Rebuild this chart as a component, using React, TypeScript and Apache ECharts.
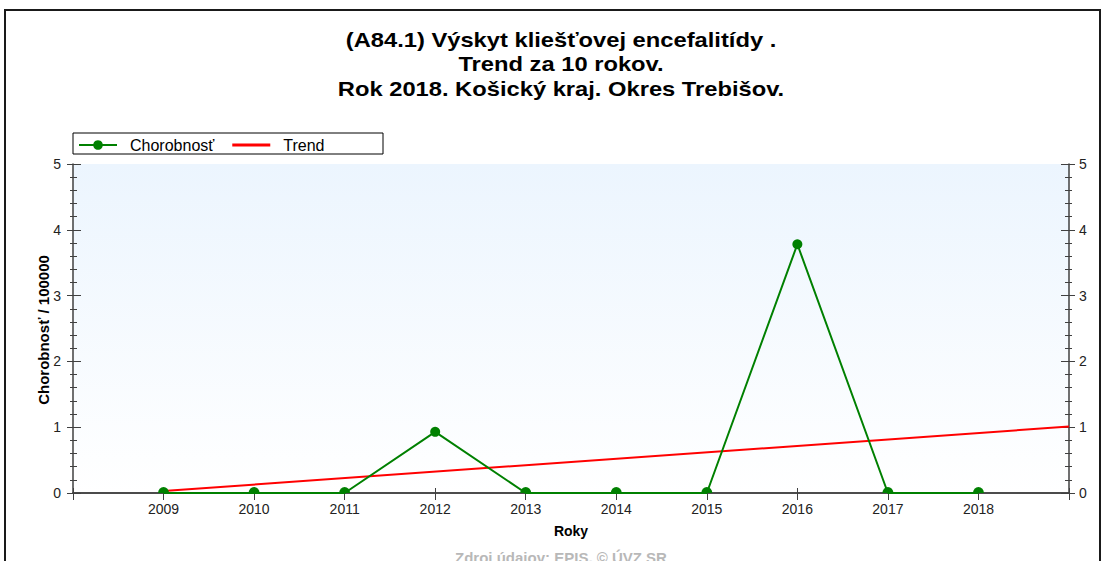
import React, { useEffect, useRef } from "react";
import * as echarts from "echarts";

const titleLines = [
  "(A84.1) Výskyt kliešťovej encefalitídy .",
  "Trend za 10 rokov.",
  "Rok 2018. Košický kraj. Okres Trebišov.",
];
const years = [2009, 2010, 2011, 2012, 2013, 2014, 2015, 2016, 2017, 2018];
const incidence = [0, 0, 0, 0.93, 0, 0, 0, 3.78, 0, 0];
const trendYears = [2009, 2019];
const trendValues = [0.03, 1.01];
const yTicks = [0, 1, 2, 3, 4, 5];
const seriesNames = ["Chorobnosť", "Trend"];
const xAxisName = "Roky";
const yAxisName = "Chorobnosť / 100000";
const sourceText = "Zdroj údajov: EPIS, © ÚVZ SR";

const FONT = "'Liberation Sans', Arial, sans-serif";
const AXIS_COLOR = "#404040";
const HALF_CIRCLE = "path://M0,10 A10,10 0 0 1 20,10 Z";
const LINE_ICON = "path://M0,0 H40 V3 H0 Z";
const TITLE_Y = [40, 64, 89];

export default function App() {
  const ref = useRef<HTMLDivElement>(null);
  useEffect(() => {
    if (!ref.current) return;
    const chart = echarts.init(ref.current, undefined, { renderer: "svg" });
    const xMin = years[0] - 1;
    const xMax = years[years.length - 1] + 1;
    const yMin = yTicks[0];
    const yMax = yTicks[yTicks.length - 1];

    const lineStyleAxis = { color: AXIS_COLOR, width: 1.5 };
    const baseX = {
      type: "value" as const,
      min: xMin,
      max: xMax,
      interval: 1,
      splitLine: { show: false },
    };
    const baseY = {
      type: "value" as const,
      min: yMin,
      max: yMax,
      interval: 1,
      splitLine: { show: false },
    };
    const labelStyle = { fontFamily: FONT, fontSize: 14, color: "#222" };

    chart.setOption({
      animation: false,
      backgroundColor: "#ffffff",
      legend: {
        data: [
          { name: seriesNames[0] },
          { name: seriesNames[1], icon: LINE_ICON },
        ],
        left: 78,
        top: 137,
        itemWidth: 38,
        itemHeight: 12,
        itemGap: 18,
        padding: 0,
        textStyle: {
          fontFamily: FONT,
          fontSize: 16,
          color: "#000",
          padding: [0, 0, 0, 8],
        },
      },
      grid: {
        left: 73,
        top: 164,
        right: 34,
        bottom: 68,
        show: true,
        borderWidth: 0,
        backgroundColor: {
          type: "linear",
          x: 0,
          y: 0,
          x2: 0,
          y2: 1,
          colorStops: [
            { offset: 0, color: "#ecf5fe" },
            { offset: 1, color: "#ffffff" },
          ],
        },
      },
      xAxis: [
        {
          ...baseX,
          position: "bottom",
          axisLine: { show: true, lineStyle: lineStyleAxis },
          axisTick: { show: true, length: 5, inside: false, lineStyle: { color: AXIS_COLOR } },
          axisLabel: {
            ...labelStyle,
            margin: 9,
            formatter: (v: number) => (years.includes(v) ? String(v) : ""),
          },
          name: xAxisName,
          nameLocation: "middle",
          nameGap: 31,
          nameTextStyle: { fontFamily: FONT, fontSize: 14, fontWeight: "bold", color: "#000" },
        },
        {
          ...baseX,
          position: "bottom",
          axisLine: { show: false },
          axisTick: { show: true, length: 5, inside: true, lineStyle: { color: AXIS_COLOR } },
          axisLabel: { show: false },
        },
        {
          ...baseX,
          position: "top",
          axisLine: { show: true, lineStyle: lineStyleAxis },
          axisTick: { show: true, length: 7, inside: true, lineStyle: { color: AXIS_COLOR } },
          axisLabel: { show: false },
        },
      ],
      yAxis: [
        {
          ...baseY,
          position: "left",
          axisLine: { show: true, lineStyle: lineStyleAxis },
          axisTick: { show: true, length: 6, inside: false, lineStyle: { color: AXIS_COLOR } },
          minorTick: { show: true, splitNumber: 5, length: 3, lineStyle: { color: AXIS_COLOR } },
          axisLabel: { ...labelStyle, margin: 12 },
        },
        {
          ...baseY,
          position: "right",
          axisLine: { show: true, lineStyle: lineStyleAxis },
          axisTick: { show: true, length: 6, inside: false, lineStyle: { color: AXIS_COLOR } },
          minorTick: { show: true, splitNumber: 5, length: 3, lineStyle: { color: AXIS_COLOR } },
          axisLabel: { ...labelStyle, margin: 10 },
        },
        {
          ...baseY,
          position: "left",
          axisLine: { show: false },
          axisTick: { show: true, length: 8, inside: true, lineStyle: { color: AXIS_COLOR } },
          minorTick: { show: true, splitNumber: 5, length: 4, lineStyle: { color: AXIS_COLOR } },
          axisLabel: { show: false },
        },
        {
          ...baseY,
          position: "right",
          axisLine: { show: false },
          axisTick: { show: true, length: 8, inside: true, lineStyle: { color: AXIS_COLOR } },
          minorTick: { show: true, splitNumber: 5, length: 4, lineStyle: { color: AXIS_COLOR } },
          axisLabel: { show: false },
        },
      ],
      series: [
        {
          name: seriesNames[0],
          type: "line",
          xAxisIndex: 0,
          yAxisIndex: 0,
          clip: false,
          z: 3,
          symbol: "circle",
          symbolSize: 10,
          color: "#008000",
          lineStyle: { color: "#008000", width: 2 },
          itemStyle: { color: "#008000" },
          data: years.map((y, i) => {
            const v = incidence[i];
            return v === 0
              ? { value: [y, v], symbol: HALF_CIRCLE, symbolSize: [11, 6], symbolOffset: [0, -3] }
              : { value: [y, v] };
          }),
        },
        {
          name: seriesNames[1],
          type: "line",
          xAxisIndex: 0,
          yAxisIndex: 0,
          symbol: "none",
          z: 2,
          color: "#ff0000",
          lineStyle: { color: "#ff0000", width: 2 },
          itemStyle: { color: "#ff0000" },
          data: trendYears.map((y, i) => [y, trendValues[i]]),
        },
      ],
      graphic: [
        ...titleLines.map((t, i) => ({
          type: "text",
          x: 561,
          y: TITLE_Y[i],
          scaleX: 1.13,
          style: {
            text: t,
            fontFamily: FONT,
            fontSize: 21,
            fontWeight: "bold",
            fill: "#000",
            textAlign: "center",
            textVerticalAlign: "middle",
          },
        })),
        {
          type: "text",
          x: 43,
          y: 330,
          rotation: Math.PI / 2,
          style: {
            text: yAxisName,
            fontFamily: FONT,
            fontSize: 15,
            fontWeight: "bold",
            fill: "#000",
            textAlign: "center",
            textVerticalAlign: "middle",
          },
        },
        {
          type: "rect",
          shape: { x: 73, y: 133, width: 310, height: 21 },
          style: { fill: "transparent", stroke: "#000", lineWidth: 1 },
          z: 10,
        },
        {
          type: "rect",
          shape: { x: 5, y: 10, width: 1095, height: 600 },
          style: { fill: "transparent", stroke: "#1a1a1a", lineWidth: 2 },
          z: 10,
        },
        {
          type: "text",
          x: 561,
          y: 557,
          style: {
            text: sourceText,
            fontFamily: FONT,
            fontSize: 15,
            fontWeight: "bold",
            fill: "#b8b8b8",
            textAlign: "center",
            textVerticalAlign: "middle",
          },
        },
      ],
    });
    return () => chart.dispose();
  }, []);
  return (
    <div
      ref={ref}
      style={{ position: "absolute", left: 0, top: 0, width: 1103, height: 561 }}
    />
  );
}
